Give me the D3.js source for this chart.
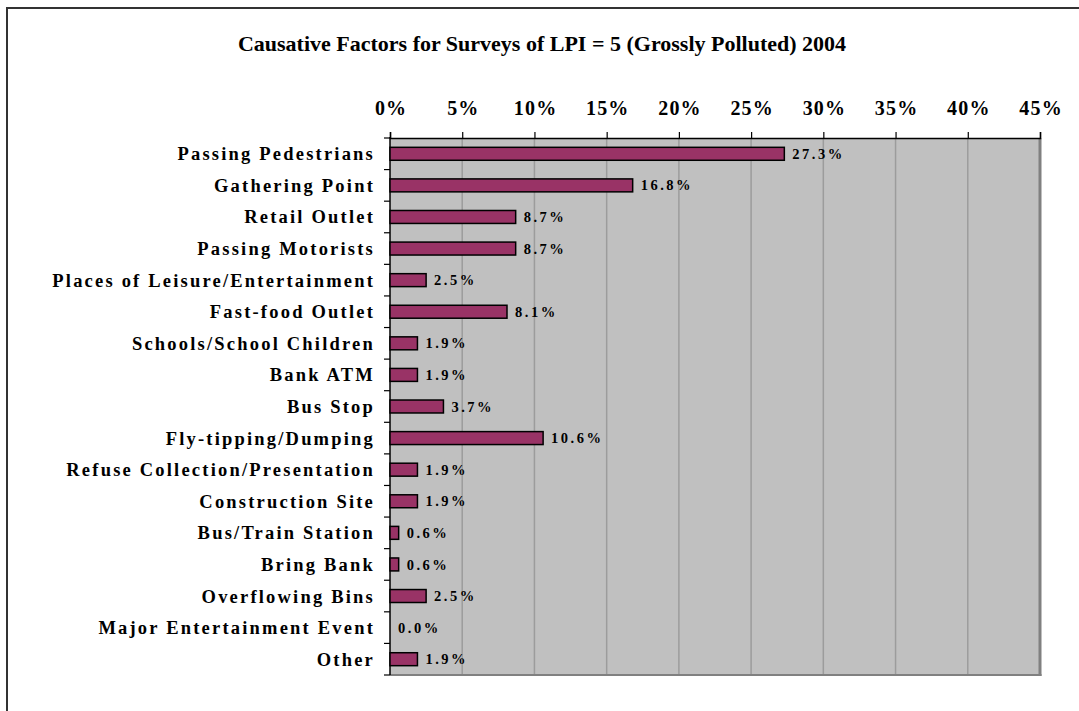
<!DOCTYPE html>
<html lang="en">
<head>
    <meta charset="UTF-8">
    <title>Causative Factors</title>
    <script src="https://d3js.org/d3.v7.min.js"></script>
    <style>
        body { margin: 0; background: #fff; }
        text { font-family: "Liberation Serif", "Times New Roman", serif; font-weight: bold; }
    </style>
</head>
<body>
    <script>
        const categories = ["Passing Pedestrians", "Gathering Point", "Retail Outlet", "Passing Motorists",
            "Places of Leisure/Entertainment", "Fast-food Outlet", "Schools/School Children", "Bank ATM",
            "Bus Stop", "Fly-tipping/Dumping", "Refuse Collection/Presentation", "Construction  Site",
            "Bus/Train Station", "Bring Bank", "Overflowing Bins", "Major Entertainment Event", "Other"];
        const values = [27.3, 16.8, 8.7, 8.7, 2.5, 8.1, 1.9, 1.9, 3.7, 10.6, 1.9, 1.9, 0.6, 0.6, 2.5, 0.0, 1.9];
        const xTicks = [0, 5, 10, 15, 20, 25, 30, 35, 40, 45];

        const W = 1079, H = 711;
        const pLeft = 390, pRight = 1040, pTop = 138, pBottom = 675;

        const svg = d3.select('body').append('svg').attr('width', W).attr('height', H);

        // outer frame (runs off the right and bottom edges)
        svg.append('rect').attr('x', 7).attr('y', 8).attr('width', W + 20).attr('height', H + 20)
            .attr('fill', 'none').attr('stroke', '#333').attr('stroke-width', 2);

        svg.append('text').attr('x', 542).attr('y', 51).attr('text-anchor', 'middle')
            .style('font-size', '22px').text('Causative Factors for Surveys of LPI = 5 (Grossly Polluted) 2004');

        const x = d3.scaleLinear().domain([0, 45]).range([pLeft, pRight]);
        const y = d3.scaleBand().domain(categories).range([pTop, pBottom]).paddingInner(0.59).paddingOuter(0.295);

        // plot background
        svg.append('rect').attr('x', pLeft).attr('y', pTop).attr('width', pRight - pLeft).attr('height', pBottom - pTop)
            .attr('fill', '#c0c0c0');

        // gridlines
        svg.selectAll('line.grid').data(xTicks.slice(1, -1)).enter().append('line')
            .attr('x1', d => x(d)).attr('x2', d => x(d)).attr('y1', pTop).attr('y2', pBottom)
            .attr('stroke', '#9c9c9c').attr('stroke-width', 1.5);

        // right and bottom shaded edges
        svg.append('line').attr('x1', pRight).attr('x2', pRight).attr('y1', pTop).attr('y2', pBottom + 1)
            .attr('stroke', '#808080').attr('stroke-width', 3);
        svg.append('line').attr('x1', pLeft).attr('x2', pRight + 1.5).attr('y1', pBottom).attr('y2', pBottom)
            .attr('stroke', '#808080').attr('stroke-width', 2);

        // top axis
        const xAxis = d3.axisTop(x).tickValues(xTicks).tickFormat(d => d + '%').tickSize(6).tickPadding(17);
        const gx = svg.append('g').attr('transform', `translate(0,${pTop})`).call(xAxis);
        gx.select('.domain').attr('stroke', '#000').attr('stroke-width', 1.5);
        gx.selectAll('.tick line').attr('stroke', '#000').attr('stroke-width', 1.2);
        gx.selectAll('.tick text').style('font-size', '20px').style('letter-spacing', '1.2px')
            .attr('fill', '#000').attr('dx', '0.6px');

        // left axis line and ticks at band boundaries
        svg.append('line').attr('x1', pLeft).attr('x2', pLeft).attr('y1', pTop - 1).attr('y2', pBottom)
            .attr('stroke', '#000').attr('stroke-width', 1.5);
        const step = y.step();
        svg.selectAll('line.ytick').data(d3.range(categories.length + 1)).enter().append('line')
            .attr('x1', pLeft - 6).attr('x2', pLeft).attr('y1', i => pTop + i * step).attr('y2', i => pTop + i * step)
            .attr('stroke', '#000').attr('stroke-width', 1.2);

        // category labels
        svg.selectAll('text.cat').data(categories).enter().append('text')
            .attr('x', 375).attr('y', d => y(d) + y.bandwidth() / 2).attr('dy', '0.35em')
            .attr('text-anchor', 'end').style('font-size', '18.5px').style('letter-spacing', '2.2px')
            .text(d => d);

        // bars
        svg.selectAll('rect.bar').data(values).enter().append('rect')
            .attr('x', x(0)).attr('y', (d, i) => y(categories[i]))
            .attr('width', d => x(d) - x(0)).attr('height', y.bandwidth())
            .attr('fill', '#993366').attr('stroke', '#000').attr('stroke-width', d => d > 0 ? 1.5 : 0);

        // value labels
        svg.selectAll('text.val').data(values).enter().append('text')
            .attr('x', d => x(d) + 8).attr('y', (d, i) => y(categories[i]) + y.bandwidth() / 2).attr('dy', '0.35em')
            .style('font-size', '14.5px').style('letter-spacing', '2.5px')
            .text(d => d.toFixed(1) + '%');
    </script>
</body>
</html>
